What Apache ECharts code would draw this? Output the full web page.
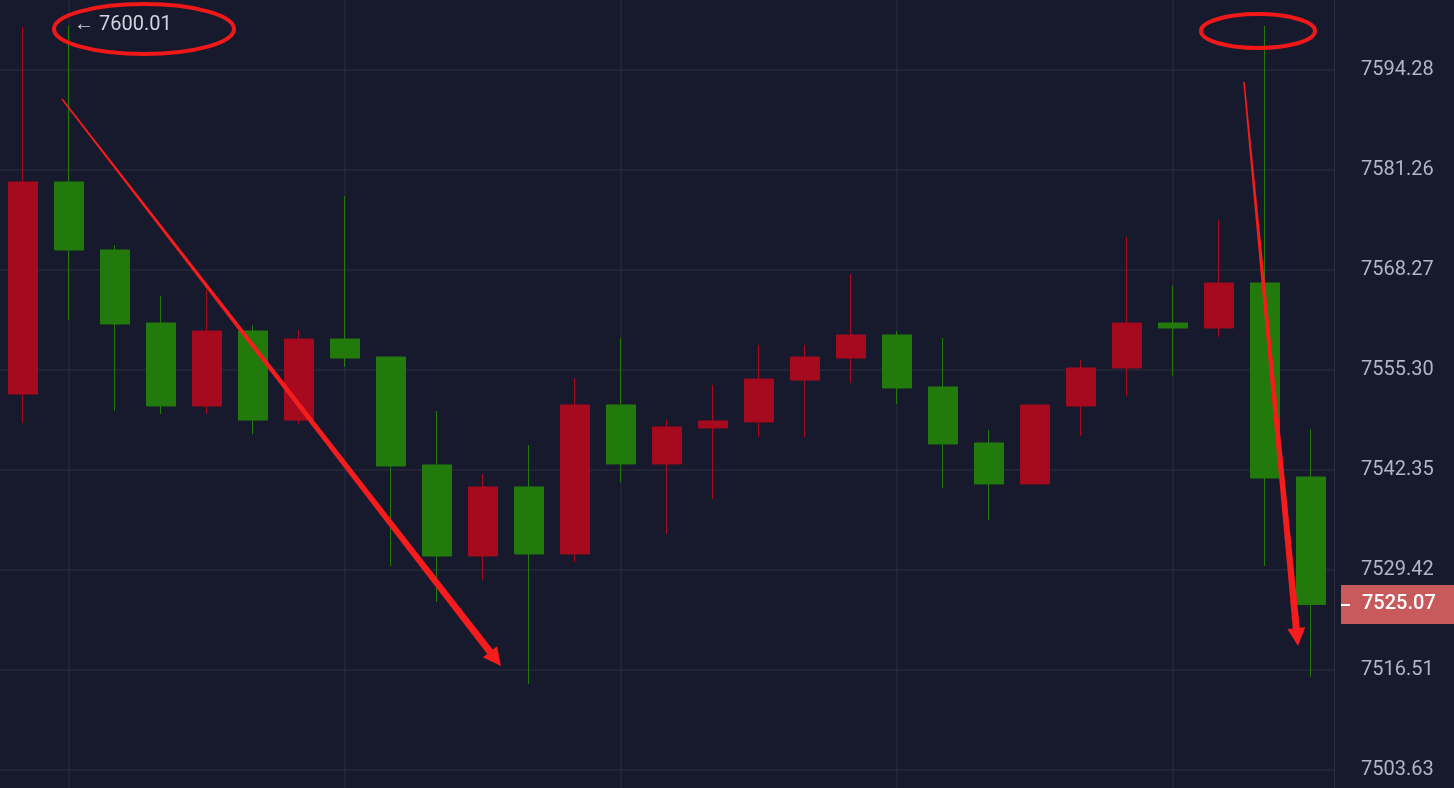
<!DOCTYPE html>
<html><head><meta charset="utf-8">
<script src="https://cdn.jsdelivr.net/npm/echarts@6/dist/echarts.min.js"></script>
<style>html,body{margin:0;padding:0;background:#171a2c}#c{width:1454px;height:788px}</style>
</head><body><div id="c"></div>
<script>
const categories = Array.from({length:29},(_,i)=>'C'+(i+1));
// [open, close, low, high]
const ohlc = [
[7552.32,7579.78,7548.57,7599.85],
[7579.78,7570.97,7561.90,7600.01],
[7570.97,7561.39,7550.12,7571.62],
[7561.51,7550.77,7549.73,7565.01],
[7550.77,7560.48,7549.73,7565.79],
[7560.48,7548.95,7547.14,7561.26],
[7548.95,7559.44,7548.44,7560.61],
[7559.44,7556.98,7555.82,7577.96],
[7557.11,7543.00,7530.05,7557.11],
[7543.13,7531.34,7525.39,7550.12],
[7531.34,7540.28,7528.23,7541.96],
[7540.28,7531.60,7514.77,7545.72],
[7531.60,7550.90,7530.57,7554.39],
[7550.90,7543.26,7540.93,7559.57],
[7543.26,7548.05,7534.19,7548.95],
[7547.92,7548.83,7538.72,7553.49],
[7548.70,7554.26,7546.75,7558.67],
[7554.13,7557.11,7546.75,7558.67],
[7556.98,7559.96,7553.75,7567.86],
[7559.96,7553.10,7551.03,7560.48],
[7553.23,7545.85,7540.15,7559.57],
[7545.98,7540.67,7536.01,7547.66],
[7540.67,7550.90,7540.67,7550.90],
[7550.77,7555.69,7546.89,7556.73],
[7555.69,7561.51,7552.07,7572.66],
[7561.51,7560.87,7554.66,7566.31],
[7560.87,7566.70,7559.71,7574.86],
[7566.70,7541.44,7530.05,7600.01],
[7541.57,7525.07,7515.68,7547.79]
];
const tickLabels = ['7503.63','7516.51','7529.42','7542.35','7555.30','7568.27','7581.26','7594.28'];
const tickStep = 12.95;
const tickBase = 7503.63;
const vGridCats = ['C2','C8','C14','C20','C26'];
const lastPrice = 7525.07;

const tickPos = tickLabels.map((_,i)=>+(tickBase+i*tickStep).toFixed(3));
function taperArrow(x1,y1,x2,y2,w1,w2,head){
  const dx=x2-x1, dy=y2-y1, L=Math.hypot(dx,dy), ux=dx/L, uy=dy/L, nx=-uy, ny=ux;
  const bx=x2-ux*head, by=y2-uy*head;
  return [[x1+nx*w1/2,y1+ny*w1/2],[bx+nx*w2/2,by+ny*w2/2],[bx+nx*head*0.5,by+ny*head*0.5],[x2,y2],
          [bx-nx*head*0.5,by-ny*head*0.5],[bx-nx*w2/2,by-ny*w2/2],[x1-nx*w1/2,y1-ny*w1/2]];
}
const chart = echarts.init(document.getElementById('c'));
chart.setOption({
  backgroundColor:'#171a2c',
  animation:false,
  grid:{left:0,right:120,top:0,bottom:0},
  xAxis:{type:'category',data:categories,boundaryGap:true,
    axisLine:{show:false},axisTick:{show:false},axisLabel:{show:false},splitLine:{show:false}},
  yAxis:{type:'value',position:'right',min:7501.29,max:7603.35,
    axisLine:{show:true,lineStyle:{color:'#2a2e40'}},axisTick:{show:false},
    axisLabel:{color:'#b2b5c3',fontSize:20,fontFamily:'Roboto',margin:27,customValues:tickPos,
      formatter:(v)=>tickLabels[Math.round((v-tickBase)/tickStep)]||''},
    splitLine:{show:false}},
  series:[{type:'candlestick',data:ohlc,barWidth:30,
    itemStyle:{color:'#a50a1e',color0:'#237a0c',borderColor:'#a50a1e',borderColor0:'#237a0c',borderWidth:1},
    markLine:{silent:true,symbol:'none',label:{show:false},z:1,
      lineStyle:{color:'#242839',width:1.5,type:'solid'},
      data:[...tickPos.map(v=>({yAxis:v})),...vGridCats.map(c=>({xAxis:c}))]}}],
  graphic:[
    {type:'rect',z:100,shape:{x:1341,y:585,width:113,height:39},style:{fill:'#c85a5c'}},
    {type:'line',z:101,shape:{x1:1341,y1:605,x2:1350,y2:605},style:{stroke:'#ffffff',lineWidth:2}},
    {type:'text',z:101,x:1362,y:604,style:{text:lastPrice.toFixed(2),fill:'#ffffff',fontSize:20,fontFamily:'Roboto',fontWeight:500,verticalAlign:'middle'}},
    {type:'text',z:101,x:74,y:25,style:{text:'← 7600.01',fill:'#d0d3e0',fontSize:20,fontFamily:'Roboto',verticalAlign:'middle'}},
    {type:'ellipse',z:101,shape:{cx:144,cy:29,rx:90,ry:25},style:{fill:'none',stroke:'#f01818',lineWidth:4}},
    {type:'ellipse',z:101,shape:{cx:1258,cy:31,rx:57,ry:17},style:{fill:'none',stroke:'#f01818',lineWidth:4}},
    {type:'polygon',z:101,shape:{points:taperArrow(62,99,501,666,1.5,7,18)},style:{fill:'#f41c1c'}},
    {type:'polygon',z:101,shape:{points:taperArrow(1244,82,1298,646,1.5,7,18)},style:{fill:'#f41c1c'}}
  ]
});
</script></body></html>
